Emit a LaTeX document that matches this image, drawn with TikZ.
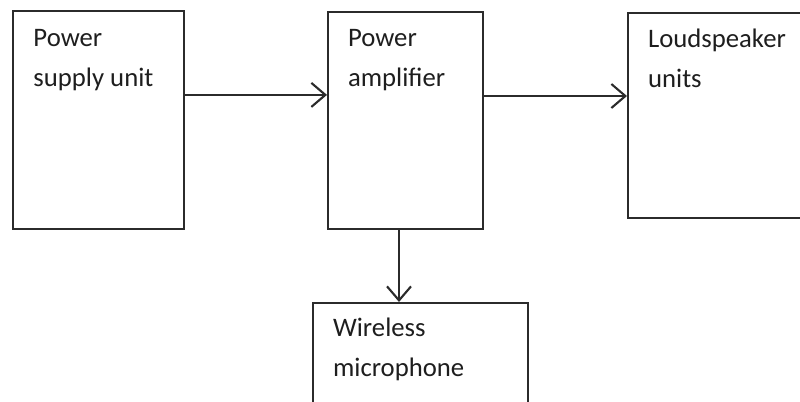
\documentclass[tikz,border=0pt]{standalone}
\usepackage{fontspec}
\setmainfont{Carlito}
\usepackage{xcolor}
\usetikzlibrary{arrows.meta}
\definecolor{BDLine}{HTML}{2B2B2B}
\definecolor{BDText}{HTML}{1E1E1E}

\begin{document}
\begin{tikzpicture}[x=1cm,y=1cm,
  blockbox/.style={draw=BDLine,line width=1.3pt,rectangle,anchor=north west,inner sep=0pt},
  blocktext/.style={anchor=base west,align=left,inner sep=0pt,text=BDText,font=\fontsize{19}{28.5}\selectfont},
  flowarrow/.style={draw=BDLine,line width=1.3pt,-{Straight Barb[length=3.5mm,width=6mm,line width=1.5pt]}}]
\useasboundingbox (0,0) rectangle (20.00,10.05);
\clip (0,0) rectangle (20.00,10.05);
% blocks
\node[blockbox,minimum width=4.26cm,minimum height=5.45cm] (psu) at (0.31,9.80) {};
\node[blockbox,minimum width=3.875cm,minimum height=5.425cm] (amp) at (8.175,9.775) {};
\node[blockbox,minimum width=4.575cm,minimum height=5.125cm] (spk) at (15.675,9.75) {};
\node[blockbox,minimum width=5.375cm,minimum height=3.00cm] (mic) at (7.80,2.50) {};
% labels (base = last line)
\node[blocktext] (psutext) at ([xshift=0.52cm,yshift=-1.925cm]psu.north west) {Power\\supply unit};
\node[blocktext] (amptext) at ([xshift=0.52cm,yshift=-1.90cm]amp.north west) {Power\\amplifier};
\node[blocktext] (spktext) at ([xshift=0.52cm,yshift=-1.90cm]spk.north west) {Loudspeaker\\units};
\node[blocktext] (mictext) at ([xshift=0.52cm,yshift=-1.875cm]mic.north west) {Wireless\\microphone};
% connectors
\draw[flowarrow] ([yshift=0.625cm]psu.east) -- ([yshift=0.625cm]psu.east -| amp.west);
\draw[flowarrow] ([yshift=0.61cm]amp.east) -- ([yshift=0.61cm]amp.east -| spk.west);
\draw[flowarrow] ([xshift=-0.16cm]amp.south) -- ([xshift=-0.16cm]amp.south |- mic.north);
\end{tikzpicture}
\end{document}
